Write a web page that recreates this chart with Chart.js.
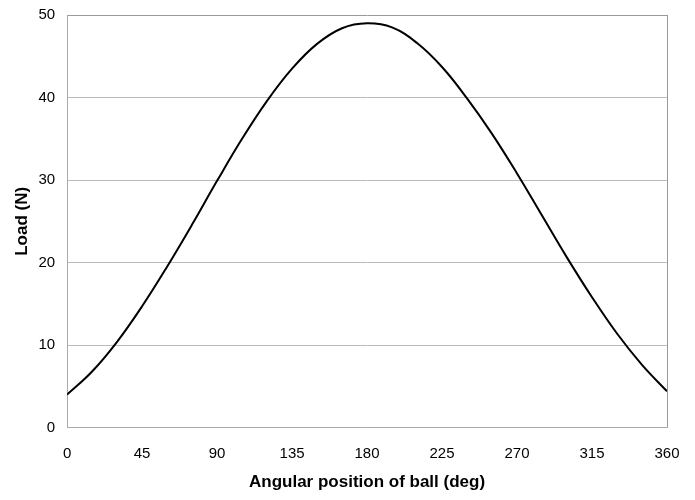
<!DOCTYPE html>
<html>
<head>
<meta charset="utf-8">
<script src="https://cdn.jsdelivr.net/npm/chart.js@4/dist/chart.umd.min.js"></script>
<style>
  html, body { margin: 0; padding: 0; background: #fff; }
  #wrap { width: 695px; height: 500px; position: relative; }
</style>
</head>
<body>
<div id="wrap"><canvas id="c" width="695" height="500"></canvas></div>
<script>
const angles = [0, 15, 30, 45, 60, 75, 90, 105, 120, 135, 150, 165, 180, 195, 210, 225, 240, 255, 270, 285, 300, 315, 330, 345, 360];
const loads  = [4.0, 6.8, 10.4, 14.7, 19.5, 24.6, 29.9, 35.0, 39.6, 43.5, 46.5, 48.4, 49.0, 48.5, 46.6, 43.7, 39.9, 35.6, 30.8, 25.7, 20.6, 15.8, 11.4, 7.6, 4.4];
const xTicks = [0, 45, 90, 135, 180, 225, 270, 315, 360];
const yTicks = [0, 10, 20, 30, 40, 50];
const xTitle = 'Angular position of ball (deg)';
const yTitle = 'Load (N)';

const pts = angles.map((a, i) => ({ x: a, y: loads[i] }));
const FONT = "'Liberation Sans', Arial, sans-serif";

new Chart(document.getElementById('c'), {
  type: 'line',
  data: {
    datasets: [{
      data: pts,
      borderColor: '#000',
      borderWidth: 2,
      pointRadius: 0,
      tension: 0.4,
      fill: false
    }]
  },
  options: {
    responsive: false,
    animation: false,
    layout: { padding: { top: 15, right: 28, bottom: 7, left: 12 } },
    plugins: { legend: { display: false }, tooltip: { enabled: false } },
    scales: {
      x: {
        type: 'linear',
        min: 0, max: 360,
        afterBuildTicks: s => { s.ticks = xTicks.map(v => ({ value: v })); },
        afterFit: s => { s.paddingRight = Math.min(s.paddingRight, 14); },
        ticks: { color: '#000', font: { family: FONT, size: 15 }, padding: 17 },
        grid: {
          drawTicks: false,
          color: c => (c.tick && c.tick.value === 360) ? '#999' : 'rgba(0,0,0,0)',
          lineWidth: 1
        },
        border: { display: true, color: '#aaa', width: 1 },
        title: { display: true, text: xTitle, color: '#000', font: { family: FONT, size: 17, weight: 'bold' }, padding: { top: -7, bottom: 0 } }
      },
      y: {
        min: 0, max: 50,
        afterBuildTicks: s => { s.ticks = yTicks.map(v => ({ value: v })); },
        ticks: { color: '#000', font: { family: FONT, size: 15 }, padding: 3 },
        grid: {
          drawTicks: true,
          tickLength: 9,
          tickColor: 'rgba(0,0,0,0)',
          color: c => (c.tick && c.tick.value === 50) ? '#999' : '#bbb',
          lineWidth: 1
        },
        border: { display: true, color: '#aaa', width: 1 },
        title: { display: true, text: yTitle, color: '#000', font: { family: FONT, size: 17, weight: 'bold' }, padding: { top: 0, bottom: 3 } }
      }
    }
  }
});
</script>
</body>
</html>
